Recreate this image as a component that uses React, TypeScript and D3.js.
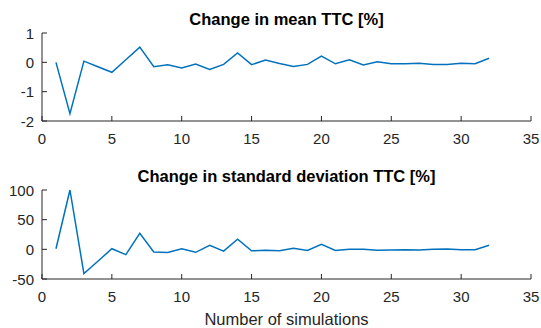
import * as d3 from 'd3';

// simulation counts 1..32
const simulations = d3.range(1, 33);

// change in mean TTC [%]
const meanChange = [
  0, -1.75, 0.04, -0.15, -0.34, 0.09, 0.52, -0.15, -0.08, -0.19,
  -0.06, -0.24, -0.07, 0.32, -0.08, 0.08, -0.04, -0.14, -0.07, 0.21,
  -0.05, 0.09, -0.09, 0.02, -0.05, -0.05, -0.03, -0.07, -0.07, -0.03,
  -0.05, 0.14,
];

// change in standard deviation TTC [%]
const stdChange = [
  1, 100, -41, -20, 1, -9, 27, -4.5, -5.5, 1,
  -5, 6.7, -3, 17, -2.5, -1.5, -2.5, 1.7, -2, 8.5,
  -2, 0, 0, -1.5, -1, -0.5, -1, 0, 0.5, -0.5,
  -0.5, 7,
];

const xTicks = [0, 5, 10, 15, 20, 25, 30, 35];
const meanTicks = [-2, -1, 0, 1];
const stdTicks = [-50, 0, 50, 100];

const width = 541,
  height = 328,
  marginLeft = 42,
  marginRight = 10;

const font = '"Liberation Sans", Arial, Helvetica, sans-serif';
const axisColor = '#262626';
const lineColor = '#0072BD';

function Panel({ values, yDomain, yTicks, top, bottom, title, xLabel }) {
  const x = d3
    .scaleLinear()
    .domain([0, 35])
    .range([marginLeft, width - marginRight]);
  const y = d3.scaleLinear().domain(yDomain).range([bottom, top]);
  const line = d3
    .line<number>()
    .x((_, i) => x(simulations[i]))
    .y((d) => y(d));
  const tickLen = 5;

  return (
    <g>
      <text
        x={(x(0) + x(35)) / 2}
        y={top - 8}
        textAnchor="middle"
        fontFamily={font}
        fontWeight="bold"
        fontSize={16.5}
        fill="#000"
      >
        {title}
      </text>
      <path d={line(values) || ''} fill="none" stroke={lineColor} strokeWidth={1.5} />
      {/* axes lines */}
      <line x1={x(0)} x2={x(35)} y1={bottom} y2={bottom} stroke={axisColor} strokeWidth={1} />
      <line x1={x(0)} x2={x(0)} y1={top} y2={bottom} stroke={axisColor} strokeWidth={1} />
      {xTicks.map((t) => (
        <g key={'x' + t}>
          <line x1={x(t)} x2={x(t)} y1={bottom} y2={bottom - tickLen} stroke={axisColor} />
          <text
            x={x(t)}
            y={bottom + 23}
            textAnchor="middle"
            fontFamily={font}
            fontSize={15}
            fill={axisColor}
          >
            {t}
          </text>
        </g>
      ))}
      {yTicks.map((t) => (
        <g key={'y' + t}>
          <line x1={x(0)} x2={x(0) + tickLen} y1={y(t)} y2={y(t)} stroke={axisColor} />
          <text
            x={x(0) - 8}
            y={y(t) + 5.5}
            textAnchor="end"
            fontFamily={font}
            fontSize={15}
            fill={axisColor}
          >
            {t}
          </text>
        </g>
      ))}
      {xLabel && (
        <text
          x={(x(0) + x(35)) / 2}
          y={bottom + 46}
          textAnchor="middle"
          fontFamily={font}
          fontSize={16.5}
          fill={axisColor}
        >
          {xLabel}
        </text>
      )}
    </g>
  );
}

export default function App() {
  return (
    <svg
      width={width}
      height={height}
      viewBox={`0 0 ${width} ${height}`}
      style={{ position: 'absolute', left: 0, top: 0, background: '#fff' }}
    >
      <Panel
        values={meanChange}
        yDomain={[-2, 1]}
        yTicks={meanTicks}
        top={33}
        bottom={121}
        title="Change in mean TTC [%]"
      />
      <Panel
        values={stdChange}
        yDomain={[-50, 100]}
        yTicks={stdTicks}
        top={190}
        bottom={279}
        title="Change in standard deviation TTC [%]"
        xLabel="Number of simulations"
      />
    </svg>
  );
}
